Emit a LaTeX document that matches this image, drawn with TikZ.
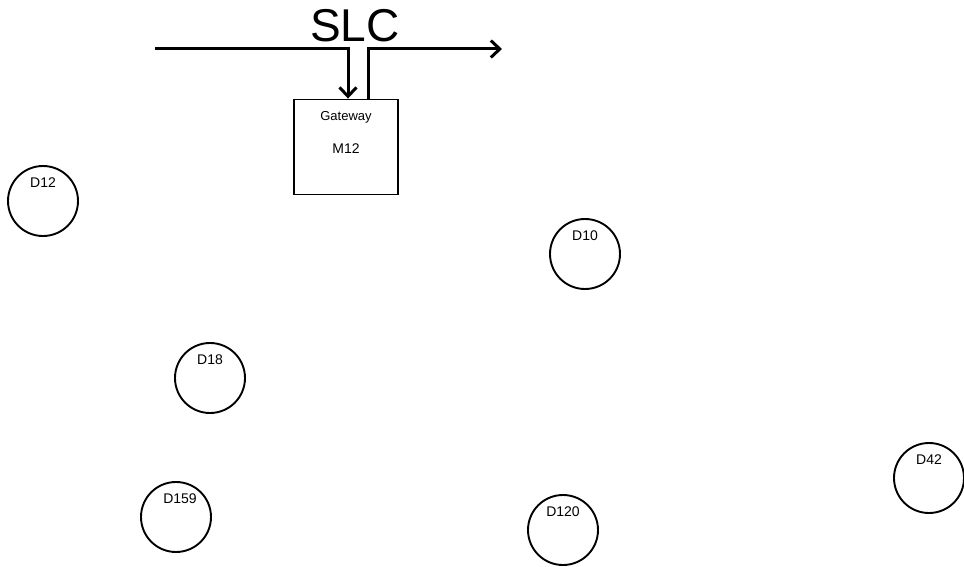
\documentclass[tikz,border=0pt]{standalone}
\usepackage{fontspec}
\setmainfont{Liberation Sans}
\usepackage{tikz}
\usetikzlibrary{arrows.meta,positioning,calc}

\tikzset{
  dev/.style={draw, circle, line width=1.9pt, minimum size=70pt, inner sep=0pt},
  devtag/.style={anchor=north, yshift=-10pt, inner sep=2pt, font=\fontsize{14}{14}\selectfont},
  wire/.style={line width=3pt},
}

\begin{document}
\begin{tikzpicture}[x=1pt, y=-1pt, >={Straight Barb[length=9pt,width=17pt]}]
            \useasboundingbox (0,0) rectangle (964,567);

            % gateway on the bus
            \node[draw, line width=1.9pt, minimum width=104pt, minimum height=95pt] (gw) at (346,147) {};
            \node[font=\fontsize{13}{13}\selectfont] (gwname) at ([yshift=-19pt]gw.north) {Gateway};
            \node[font=\fontsize{14}{14}\selectfont] (gwid) at ([yshift=-50pt]gw.north) {M12};

            \node[font=\fontsize{46}{46}\selectfont] (slc) at (355,26) {SLC};
            \coordinate (in) at (155,49);
            \coordinate (out) at (502,49);
            \draw[wire,->] (in) -| ([xshift=2pt]gw.north);
            \draw[wire,->] ([xshift=22pt]gw.north) |- (out);

            % devices
            \node[dev, label={[devtag]north:D12}] (d12) at (43,201) {};
            \node[dev, label={[devtag]north:D10}] (d10) at (585,254) {};
            \node[dev, label={[devtag]north:D18}] (d18) at (210,378) {};
            \node[dev, label={[devtag,xshift=4pt]north:D159}] (d159) at (176,517) {};
            \node[dev, label={[devtag]north:D120}] (d120) at (563,530) {};
            \node[dev, label={[devtag]north:D42}] (d42) at (929,478) {};
        \end{tikzpicture}
\end{document}
